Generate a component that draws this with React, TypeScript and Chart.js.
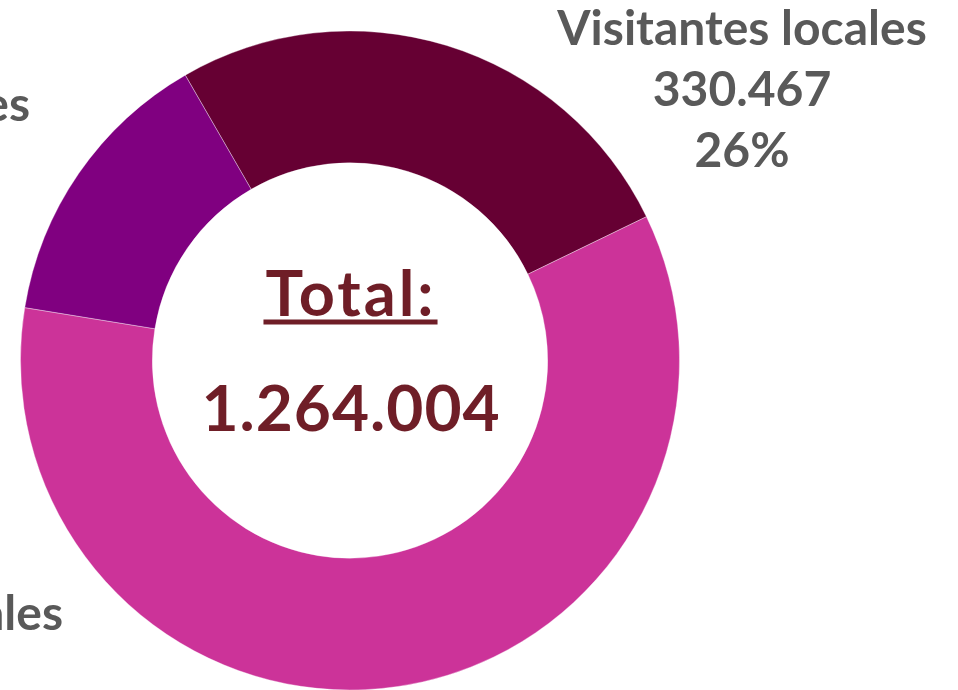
import React, { useEffect, useRef } from "react";
import { Chart, registerables } from "chart.js";

Chart.register(...registerables);

const categories = ["Visitantes locales", "Visitantes nacionales", "Visitantes internacionales"];
const values = [330467, 755301, 178236];
const percentLabels = ["26%", "60%", "14%"];
const valueLabels = ["330.467", "755.301", "178.236"];
const colors = ["#660033", "#CC3399", "#800080"];
const totalLabel = "Total:";
const totalValue = "1.264.004";

const SHIFT = 400; // canvas starts off-screen to the left

export default function App() {
  const ref = useRef<HTMLCanvasElement | null>(null);

  useEffect(() => {
    document.body.style.margin = "0";
    const canvas = ref.current!;
    const labelFont = "bold 48px Lato";
    const labelColor = "#595959";
    // label anchor: [mode, x, yFirstBaseline] in page coords; mode c = centered, r = name right edge
    const labelPos: Array<[string, number, number]> = [
      ["c", 742, 45],
      ["r", 63, 630],
      ["r", 30, 121],
    ];
    const lineGap = 61;

    const textPlugin = {
      id: "texts",
      afterDraw(chart: any) {
        const ctx = chart.ctx as any;
        const arc = chart.getDatasetMeta(0).data[0];
        const cx = arc.x;
        const cy = arc.y;
        ctx.save();
        // center text
        ctx.fillStyle = "#6F1E27";
        ctx.textAlign = "center";
        ctx.textBaseline = "alphabetic";
        ctx.font = "bold 63px Lato";
        ctx.letterSpacing = "3px";
        ctx.fillText(totalLabel, cx + 1, cy - 45);
        const tw = ctx.measureText(totalLabel).width;
        ctx.fillRect(cx - tw / 2 - 1, cy - 41, tw + 3, 5);
        ctx.letterSpacing = "1px";
        ctx.font = "bold 64px Lato";
        ctx.fillText(totalValue, cx + 1, cy + 70);
        ctx.letterSpacing = "0px";

        // outer labels
        ctx.font = labelFont;
        ctx.fillStyle = labelColor;
        categories.forEach((name, i) => {
          const [mode, px, py] = labelPos[i];
          const w = ctx.measureText(name).width;
          const x = (mode === "c" ? px : px - w / 2) + SHIFT;
          const lines = [name, valueLabels[i], percentLabels[i]];
          lines.forEach((t, k) => ctx.fillText(t, x, py + k * lineGap));
        });
        ctx.restore();
      },
    };

    const chart = new Chart(canvas, {
      type: "doughnut",
      data: {
        labels: categories,
        datasets: [
          {
            data: values,
            backgroundColor: colors,
            borderColor: "rgba(255,255,255,0.35)",
            borderWidth: 1,
          },
        ],
      },
      options: {
        animation: false,
        responsive: false,
        maintainAspectRatio: false,
        rotation: -30,
        cutout: "60%",
        layout: { padding: { left: 420, right: 278, top: 30, bottom: 0 } },
        plugins: { legend: { display: false }, tooltip: { enabled: false } },
      },
      plugins: [textPlugin],
    });
    return () => chart.destroy();
  }, []);

  return (
    <div style={{ position: "relative", width: 958, height: 690, overflow: "hidden", background: "#fff" }}>
      <canvas
        ref={ref}
        width={1358}
        height={691}
        style={{ position: "absolute", left: -SHIFT, top: 0, width: 1358, height: 691 }}
      />
    </div>
  );
}
